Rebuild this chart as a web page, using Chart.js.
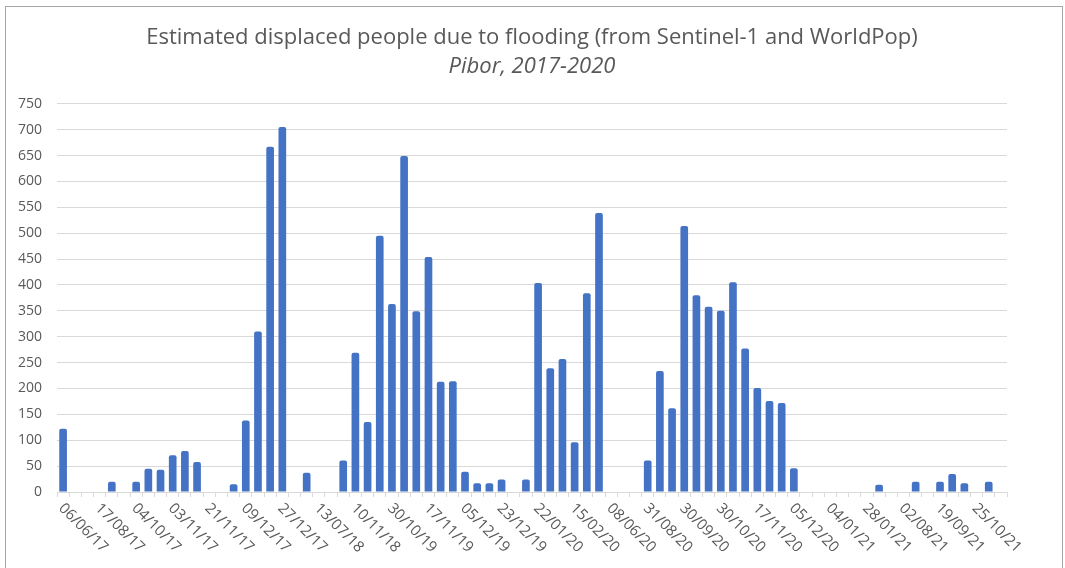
<!DOCTYPE html>
<html>
<head>
<meta charset="utf-8">
<script src="https://cdn.jsdelivr.net/npm/chart.js@4"></script>
<style>
  html, body { margin: 0; padding: 0; background: #ffffff; }
  #wrap { width: 1065px; height: 568px; }
</style>
</head>
<body>
<div id="wrap"><canvas id="chart" width="1065" height="568"></canvas></div>
<script>
// Dates printed under the axis: one every third observation
const tickLabels = [
  '06/06/17', '17/08/17', '04/10/17', '03/11/17', '21/11/17', '09/12/17',
  '27/12/17', '13/07/18', '10/11/18', '30/10/19', '17/11/19', '05/12/19',
  '23/12/19', '22/01/20', '15/02/20', '08/06/20', '31/08/20', '30/09/20',
  '30/10/20', '17/11/20', '05/12/20', '04/01/21', '28/01/21', '02/08/21',
  '19/09/21', '25/10/21'
];
const slotsPerLabel = 3;

// Estimated displaced people for each observation (null = no estimate)
const displaced = [
  122, null, null, null, 20, null, 20, 45, 43, 71, 79, 58,
  null, null, 15, 138, 310, 667, 705, null, 37, null, null, 61,
  269, 135, 495, 363, 649, 349, 454, 213, 214, 39, 17, 17,
  24, null, 24, 404, 239, 257, 96, 384, 539, null, null, null,
  61, 234, 162, 514, 380, 358, 350, 405, 277, 201, 176, 172,
  46, null, null, null, null, null, null, 14, null, null, 20, null,
  20, 35, 17, null, 20, null
];

const titleText = 'Estimated displaced people due to flooding (from Sentinel-1 and WorldPop)';
const subtitleText = 'Pibor, 2017-2020';

const categories = displaced.map((_, i) =>
  i % slotsPerLabel === 0 ? (tickLabels[i / slotsPerLabel] || '') : '');

const textGray = '#595959';
const gridGray = '#d9d9d9';
const fontFamily = '"Open Sans", "Liberation Sans", sans-serif';

// Outer frame of the chart object
const framePlugin = {
  id: 'frame',
  beforeDraw(chart) {
    const ctx = chart.ctx;
    ctx.save();
    ctx.fillStyle = '#ffffff';
    ctx.fillRect(0, 0, chart.width, chart.height);
    ctx.strokeStyle = '#a6a6a6';
    ctx.lineWidth = 1;
    ctx.strokeRect(5.5, 6.5, 1057, chart.height + 10);
    ctx.restore();
  }
};

// Date labels slanted downward to the right, starting under their bar
const slantedLabels = {
  id: 'slantedLabels',
  afterDraw(chart) {
    const x = chart.scales.x;
    const ctx = chart.ctx;
    ctx.save();
    ctx.font = '15px ' + fontFamily;
    ctx.fillStyle = textGray;
    ctx.textAlign = 'left';
    ctx.textBaseline = 'middle';
    categories.forEach((lab, i) => {
      if (!lab) return;
      const px = x.getPixelForValue(i);
      ctx.save();
      ctx.translate(px - 2, x.top + 14);
      ctx.rotate(Math.PI / 4);
      ctx.fillText(lab, 0, 0);
      ctx.restore();
    });
    ctx.restore();
  }
};

new Chart(document.getElementById('chart'), {
  type: 'bar',
  data: {
    labels: categories,
    datasets: [{
      data: displaced,
      backgroundColor: '#4472c4',
      categoryPercentage: 1,
      barPercentage: 0.63,
      borderRadius: { topLeft: 2, topRight: 2, bottomLeft: 0, bottomRight: 0 },
      borderSkipped: 'start'
    }]
  },
  options: {
    responsive: false,
    animation: false,
    devicePixelRatio: 1,
    layout: { padding: { left: 0, right: 58, top: 0, bottom: 0 } },
    plugins: {
      legend: { display: false },
      tooltip: { enabled: false },
      title: {
        display: true,
        text: titleText,
        fullSize: false,
        color: textGray,
        font: { family: fontFamily, size: 22, weight: 'normal', lineHeight: 1.2 },
        padding: { top: 25, bottom: 2 }
      },
      subtitle: {
        display: true,
        text: subtitleText,
        fullSize: false,
        color: textGray,
        font: { family: fontFamily, size: 22, style: 'italic', weight: 'normal', lineHeight: 1.2 },
        padding: { top: 0, bottom: 24 }
      }
    },
    scales: {
      x: {
        ticks: { display: false },
        grid: {
          display: true,
          offset: true,
          drawOnChartArea: false,
          drawTicks: true,
          tickLength: 5,
          color: gridGray
        },
        border: { display: true, color: gridGray, width: 1 },
        afterFit(scale) { scale.height = 76; }
      },
      y: {
        min: 0,
        max: 750,
        ticks: {
          stepSize: 50,
          color: textGray,
          padding: 15,
          font: { family: fontFamily, size: 14 }
        },
        grid: { color: gridGray, drawTicks: false },
        border: { display: false },
        afterFit(scale) { scale.width = 57; }
      }
    }
  },
  plugins: [framePlugin, slantedLabels]
});
</script>
</body>
</html>
